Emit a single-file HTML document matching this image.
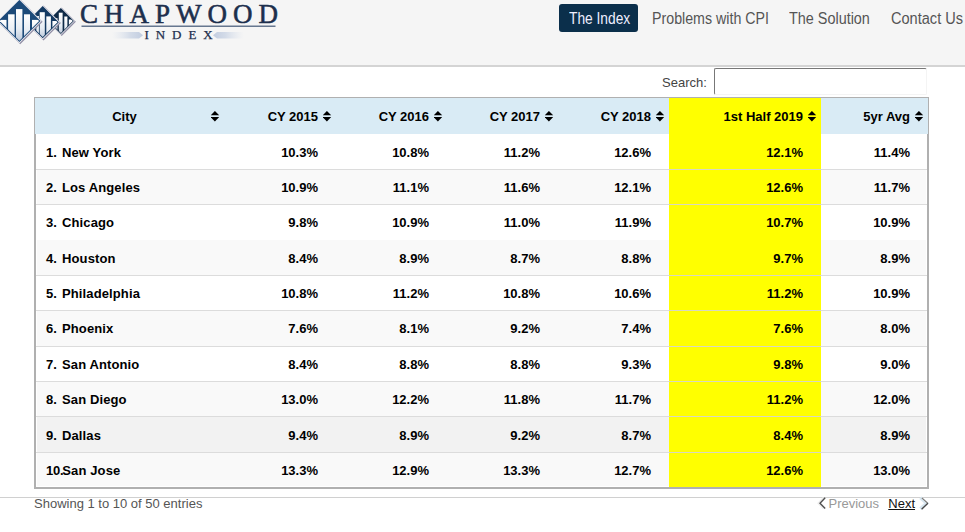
<!DOCTYPE html>
<html><head><meta charset="utf-8">
<style>
html,body{margin:0;padding:0;width:965px;height:532px;overflow:hidden;background:#fff;position:relative;font-family:"Liberation Sans",sans-serif;}
.abs{position:absolute;}
#hdr{position:absolute;left:0;top:0;width:965px;height:65px;background:#f5f5f5;border-bottom:2px solid #d4d4d4;}
.nav{position:absolute;top:4px;height:28px;line-height:29px;font-size:16px;color:#555;white-space:nowrap;}
.nav span{display:inline-block;transform-origin:0 50%;}
#active{background:#0b2f4b;color:#eef;border-radius:3px;}
#search{position:absolute;left:662px;top:75px;font-size:13px;color:#444;line-height:15px;}
#inp{position:absolute;left:714px;top:68px;width:211px;height:24.5px;border-top:1px solid #777;border-left:1px solid #777;border-right:1px solid #f4f4f4;border-bottom:1px solid #f4f4f4;border-radius:2px;background:#fff;}
#tbl{position:absolute;left:34px;top:97px;width:893px;height:389px;border:1px solid #b0b0b0;border-bottom:2px solid #b0b0b0;background:#fff;}
#thead{position:absolute;left:35px;top:98px;width:893px;height:36px;background:#d9ebf5;}
.th{position:absolute;top:99px;height:36px;line-height:36px;font-size:13px;font-weight:bold;color:#000;white-space:nowrap;}
.row{position:absolute;left:36px;width:891px;}
.rbg{position:absolute;left:37px;width:889px;}
.line{position:absolute;left:36px;width:891px;height:1px;background:#dcdcdc;}
.td{position:absolute;font-size:13px;font-weight:bold;color:#000;white-space:nowrap;line-height:15px;}
.num{display:inline-block;width:16px;}
.sort{position:absolute;width:8px;height:11px;}
#footline{position:absolute;left:0;top:497px;width:965px;height:1px;background:#d0d0d0;}
#info{position:absolute;left:34px;top:496px;font-size:13px;color:#555;line-height:15px;}
</style></head><body>
<div id="hdr"></div>
<svg class="abs" style="left:0;top:0" width="300" height="50" viewBox="0 0 300 50">
<defs><linearGradient id="bg" x1="0" y1="0" x2="0" y2="1"><stop offset="0" stop-color="#ffffff"/><stop offset="0.55" stop-color="#e6ecf3"/><stop offset="1" stop-color="#aebdd2"/></linearGradient>
<linearGradient id="blobL" x1="0" y1="0" x2="1" y2="0"><stop offset="0" stop-color="#dfe5ee" stop-opacity="0"/><stop offset="0.6" stop-color="#d3dbe8"/><stop offset="1" stop-color="#c2cde0"/></linearGradient>
<linearGradient id="blobR" x1="0" y1="0" x2="1" y2="0"><stop offset="0" stop-color="#c2cde0"/><stop offset="0.4" stop-color="#d3dbe8"/><stop offset="1" stop-color="#dfe5ee" stop-opacity="0"/></linearGradient></defs>
<clipPath id="c3"><polygon points="60.9,9.1 72.8,21.0 60.9,32.9 49.0,21.0"/></clipPath>
<polygon points="61.699999999999996,7.6000000000000005 75.89999999999999,21.8 61.699999999999996,36.0 47.5,21.8" fill="#8e8ca3"/>
<polygon points="60.9,7.0 74.9,21.0 60.9,35.0 46.9,21.0" fill="#eeeef4"/>
<polygon points="60.9,8.0 73.9,21.0 60.9,34.0 47.9,21.0" fill="#0e2a47"/>
<g clip-path="url(#c3)">
<rect x="52" y="18" width="5.399999999999999" height="19.0" fill="url(#bg)"/>
<rect x="58.8" y="12.7" width="3.8000000000000043" height="24.3" fill="url(#bg)"/>
<rect x="64.3" y="16.5" width="3.1000000000000085" height="20.5" fill="url(#bg)"/>
<rect x="68.9" y="19.5" width="5.099999999999994" height="17.5" fill="url(#bg)"/>
</g>
<clipPath id="c2"><polygon points="42.7,7.399999999999999 57.5,22.2 42.7,37.0 27.900000000000002,22.2"/></clipPath>
<polygon points="43.5,5.6000000000000005 60.9,23.0 43.5,40.39999999999999 26.100000000000005,23.0" fill="#8e8ca3"/>
<polygon points="42.7,5.0 59.900000000000006,22.2 42.7,39.4 25.500000000000004,22.2" fill="#eeeef4"/>
<polygon points="42.7,6.099999999999998 58.800000000000004,22.2 42.7,38.3 26.6,22.2" fill="#143a62"/>
<g clip-path="url(#c2)">
<rect x="28" y="21" width="6.799999999999997" height="20.4" fill="url(#bg)"/>
<rect x="36.3" y="16" width="2.6000000000000014" height="25.4" fill="url(#bg)"/>
<rect x="39.7" y="12.2" width="5.099999999999994" height="29.2" fill="url(#bg)"/>
<rect x="46.3" y="16.4" width="4.600000000000001" height="25.0" fill="url(#bg)"/>
<rect x="52.4" y="21" width="5.600000000000001" height="20.4" fill="url(#bg)"/>
</g>
<clipPath id="c1"><polygon points="19.4,1.3000000000000007 39.099999999999994,21.0 19.4,40.7 -0.3000000000000007,21.0"/></clipPath>
<polygon points="20.2,-0.5999999999999985 42.599999999999994,21.8 20.2,44.199999999999996 -2.2,21.8" fill="#8e8ca3"/>
<polygon points="19.4,-1.1999999999999993 41.599999999999994,21.0 19.4,43.2 -2.8000000000000007,21.0" fill="#eeeef4"/>
<polygon points="19.4,-0.10000000000000142 40.5,21.0 19.4,42.1 -1.7000000000000028,21.0" fill="#1c4a79"/>
<g clip-path="url(#c1)">
<rect x="-2" y="19.9" width="8.5" height="25.300000000000004" fill="url(#bg)"/>
<rect x="8.1" y="14.3" width="6.5" height="30.900000000000002" fill="url(#bg)"/>
<rect x="16" y="9.1" width="6.399999999999999" height="36.1" fill="url(#bg)"/>
<rect x="24" y="14.3" width="6" height="30.900000000000002" fill="url(#bg)"/>
<rect x="32" y="19.9" width="9" height="25.300000000000004" fill="url(#bg)"/>
</g>
<text x="80" y="23" font-family="Liberation Serif" font-size="27" letter-spacing="6.0" fill="#1d2f4d" stroke="#1d2f4d" stroke-width="0.55">CHAPWOOD</text>
<rect x="81.5" y="25.5" width="194" height="1.5" fill="#66778f"/>
<path d="M112,32 L139,32 L143,35.2 L139,38.4 L112,38.4 Z" fill="url(#blobL)"/>
<path d="M244,32 L217,32 L213,35.2 L217,38.4 L244,38.4 Z" fill="url(#blobR)"/>
<text x="144.6" y="39.1" font-family="Liberation Serif" font-size="13" letter-spacing="6.9" fill="#1d2f4d" stroke="#1d2f4d" stroke-width="0.25">INDEX</text>
</svg>

<div class="nav" id="active" style="left:559px;width:79px;"><span style="margin-left:9.5px;transform:scaleX(0.86)">The Index</span></div>
<div class="nav" style="left:651.5px;"><span style="transform:scaleX(0.889)">Problems with CPI</span></div>
<div class="nav" style="left:788.5px;"><span style="transform:scaleX(0.90)">The Solution</span></div>
<div class="nav" style="left:890.5px;"><span style="transform:scaleX(0.91)">Contact Us</span></div>

<div id="search">Search:</div>
<div id="inp"></div>

<div id="tbl"></div>
<div id="thead"></div>
<div class="abs" style="left:35px;top:134px;width:1px;height:353px;background:#b0b0b0"></div>
<div class="abs" style="left:927px;top:134px;width:1px;height:353px;background:#b0b0b0"></div>
<div class="abs" style="left:669px;top:98px;width:152px;height:36px;background:#ffff00"></div>
<div class="rbg" style="top:134px;height:35px;background:#ffffff"></div>
<div class="line" style="top:169px"></div>
<div class="rbg" style="top:170px;height:34px;background:#f9f9f9"></div>
<div class="line" style="top:204px"></div>
<div class="rbg" style="top:205px;height:35px;background:#ffffff"></div>
<div class="rbg" style="top:240px;height:35px;background:#f9f9f9"></div>
<div class="line" style="top:275px"></div>
<div class="rbg" style="top:276px;height:34px;background:#ffffff"></div>
<div class="line" style="top:310px"></div>
<div class="rbg" style="top:311px;height:35px;background:#f9f9f9"></div>
<div class="line" style="top:346px"></div>
<div class="rbg" style="top:347px;height:34px;background:#ffffff"></div>
<div class="line" style="top:381px"></div>
<div class="rbg" style="top:382px;height:34px;background:#f9f9f9"></div>
<div class="line" style="top:416px"></div>
<div class="rbg" style="top:417px;height:35px;background:#f2f2f2"></div>
<div class="line" style="top:452px"></div>
<div class="rbg" style="top:453px;height:33px;background:#f9f9f9"></div>
<div class="abs" style="left:669px;top:134px;width:152px;height:353px;background:#ffff00"></div>
<div class="abs" style="left:669px;top:169px;width:152px;height:1px;background:#d8d8c0"></div>
<div class="abs" style="left:669px;top:204px;width:152px;height:1px;background:#d8d8c0"></div>
<div class="abs" style="left:669px;top:275px;width:152px;height:1px;background:#d8d8c0"></div>
<div class="abs" style="left:669px;top:310px;width:152px;height:1px;background:#d8d8c0"></div>
<div class="abs" style="left:669px;top:346px;width:152px;height:1px;background:#d8d8c0"></div>
<div class="abs" style="left:669px;top:381px;width:152px;height:1px;background:#d8d8c0"></div>
<div class="abs" style="left:669px;top:416px;width:152px;height:1px;background:#d8d8c0"></div>
<div class="abs" style="left:669px;top:452px;width:152px;height:1px;background:#d8d8c0"></div>
<div class="td" style="left:46px;top:145px;letter-spacing:0.12px"><span class="num">1.</span>New York</div>
<div class="td" style="right:647px;top:145px">10.3%</div>
<div class="td" style="right:536px;top:145px">10.8%</div>
<div class="td" style="right:425px;top:145px">11.2%</div>
<div class="td" style="right:314px;top:145px">12.6%</div>
<div class="td" style="right:162px;top:145px">12.1%</div>
<div class="td" style="right:55px;top:145px">11.4%</div>
<div class="td" style="left:46px;top:180px;letter-spacing:0.12px"><span class="num">2.</span>Los Angeles</div>
<div class="td" style="right:647px;top:180px">10.9%</div>
<div class="td" style="right:536px;top:180px">11.1%</div>
<div class="td" style="right:425px;top:180px">11.6%</div>
<div class="td" style="right:314px;top:180px">12.1%</div>
<div class="td" style="right:162px;top:180px">12.6%</div>
<div class="td" style="right:55px;top:180px">11.7%</div>
<div class="td" style="left:46px;top:215px;letter-spacing:0.12px"><span class="num">3.</span>Chicago</div>
<div class="td" style="right:647px;top:215px">9.8%</div>
<div class="td" style="right:536px;top:215px">10.9%</div>
<div class="td" style="right:425px;top:215px">11.0%</div>
<div class="td" style="right:314px;top:215px">11.9%</div>
<div class="td" style="right:162px;top:215px">10.7%</div>
<div class="td" style="right:55px;top:215px">10.9%</div>
<div class="td" style="left:46px;top:251px;letter-spacing:0.12px"><span class="num">4.</span>Houston</div>
<div class="td" style="right:647px;top:251px">8.4%</div>
<div class="td" style="right:536px;top:251px">8.9%</div>
<div class="td" style="right:425px;top:251px">8.7%</div>
<div class="td" style="right:314px;top:251px">8.8%</div>
<div class="td" style="right:162px;top:251px">9.7%</div>
<div class="td" style="right:55px;top:251px">8.9%</div>
<div class="td" style="left:46px;top:286px;letter-spacing:0.12px"><span class="num">5.</span>Philadelphia</div>
<div class="td" style="right:647px;top:286px">10.8%</div>
<div class="td" style="right:536px;top:286px">11.2%</div>
<div class="td" style="right:425px;top:286px">10.8%</div>
<div class="td" style="right:314px;top:286px">10.6%</div>
<div class="td" style="right:162px;top:286px">11.2%</div>
<div class="td" style="right:55px;top:286px">10.9%</div>
<div class="td" style="left:46px;top:321px;letter-spacing:0.12px"><span class="num">6.</span>Phoenix</div>
<div class="td" style="right:647px;top:321px">7.6%</div>
<div class="td" style="right:536px;top:321px">8.1%</div>
<div class="td" style="right:425px;top:321px">9.2%</div>
<div class="td" style="right:314px;top:321px">7.4%</div>
<div class="td" style="right:162px;top:321px">7.6%</div>
<div class="td" style="right:55px;top:321px">8.0%</div>
<div class="td" style="left:46px;top:357px;letter-spacing:0.12px"><span class="num">7.</span>San Antonio</div>
<div class="td" style="right:647px;top:357px">8.4%</div>
<div class="td" style="right:536px;top:357px">8.8%</div>
<div class="td" style="right:425px;top:357px">8.8%</div>
<div class="td" style="right:314px;top:357px">9.3%</div>
<div class="td" style="right:162px;top:357px">9.8%</div>
<div class="td" style="right:55px;top:357px">9.0%</div>
<div class="td" style="left:46px;top:392px;letter-spacing:0.12px"><span class="num">8.</span>San Diego</div>
<div class="td" style="right:647px;top:392px">13.0%</div>
<div class="td" style="right:536px;top:392px">12.2%</div>
<div class="td" style="right:425px;top:392px">11.8%</div>
<div class="td" style="right:314px;top:392px">11.7%</div>
<div class="td" style="right:162px;top:392px">11.2%</div>
<div class="td" style="right:55px;top:392px">12.0%</div>
<div class="td" style="left:46px;top:428px;letter-spacing:0.12px"><span class="num">9.</span>Dallas</div>
<div class="td" style="right:647px;top:428px">9.4%</div>
<div class="td" style="right:536px;top:428px">8.9%</div>
<div class="td" style="right:425px;top:428px">9.2%</div>
<div class="td" style="right:314px;top:428px">8.7%</div>
<div class="td" style="right:162px;top:428px">8.4%</div>
<div class="td" style="right:55px;top:428px">8.9%</div>
<div class="td" style="left:46px;top:463px;letter-spacing:0.12px"><span class="num" style="width:16.3px;letter-spacing:-0.2px">10.</span>San Jose</div>
<div class="td" style="right:647px;top:463px">13.3%</div>
<div class="td" style="right:536px;top:463px">12.9%</div>
<div class="td" style="right:425px;top:463px">13.3%</div>
<div class="td" style="right:314px;top:463px">12.7%</div>
<div class="td" style="right:162px;top:463px">12.6%</div>
<div class="td" style="right:55px;top:463px">13.0%</div>
<div class="th" style="left:43.5px;width:162px;text-align:center">City</div>
<div class="th" style="right:647px">CY 2015</div>
<div class="th" style="right:536px">CY 2016</div>
<div class="th" style="right:425px">CY 2017</div>
<div class="th" style="right:314px">CY 2018</div>
<div class="th" style="right:162px">1st Half 2019</div>
<div class="th" style="right:55px">5yr Avg</div>
<svg class="abs" style="left:210.5px;top:110.8px" width="9" height="11" viewBox="0.6 0 9 11"><polygon points="4.5,0 8.8,4.3 0.2,4.3" fill="#000"/><polygon points="0.2,6.1 8.8,6.1 4.5,10.4" fill="#000"/></svg>
<svg class="abs" style="left:322.5px;top:110.8px" width="9" height="11" viewBox="0.6 0 9 11"><polygon points="4.5,0 8.8,4.3 0.2,4.3" fill="#000"/><polygon points="0.2,6.1 8.8,6.1 4.5,10.4" fill="#000"/></svg>
<svg class="abs" style="left:433.5px;top:110.8px" width="9" height="11" viewBox="0.6 0 9 11"><polygon points="4.5,0 8.8,4.3 0.2,4.3" fill="#000"/><polygon points="0.2,6.1 8.8,6.1 4.5,10.4" fill="#000"/></svg>
<svg class="abs" style="left:544.5px;top:110.8px" width="9" height="11" viewBox="0.6 0 9 11"><polygon points="4.5,0 8.8,4.3 0.2,4.3" fill="#000"/><polygon points="0.2,6.1 8.8,6.1 4.5,10.4" fill="#000"/></svg>
<svg class="abs" style="left:655.5px;top:110.8px" width="9" height="11" viewBox="0.6 0 9 11"><polygon points="4.5,0 8.8,4.3 0.2,4.3" fill="#000"/><polygon points="0.2,6.1 8.8,6.1 4.5,10.4" fill="#000"/></svg>
<svg class="abs" style="left:808.2px;top:110.8px" width="9" height="11" viewBox="0.6 0 9 11"><polygon points="4.5,0 8.8,4.3 0.2,4.3" fill="#000"/><polygon points="0.2,6.1 8.8,6.1 4.5,10.4" fill="#000"/></svg>
<svg class="abs" style="left:915.2px;top:110.8px" width="9" height="11" viewBox="0.6 0 9 11"><polygon points="4.5,0 8.8,4.3 0.2,4.3" fill="#000"/><polygon points="0.2,6.1 8.8,6.1 4.5,10.4" fill="#000"/></svg>
<div id="footline"></div>
<svg class="abs" style="left:814px;top:494px" width="20" height="20" viewBox="814 494 20 20"><polyline points="825.2,497.8 820,503.2 825.2,508.6" fill="none" stroke="#eee" stroke-width="2" transform="translate(-1.5,0)"/><polyline points="825.2,497.8 820,503.2 825.2,508.6" fill="none" stroke="#505050" stroke-width="1.4"/></svg><div class="abs" style="left:828.5px;top:496px;font-size:13px;line-height:15px;color:#999;white-space:nowrap">Previous</div><div class="abs" style="left:888.3px;top:496px;font-size:13px;line-height:15px;color:#111;text-decoration:underline;white-space:nowrap">Next</div><svg class="abs" style="left:914px;top:494px" width="20" height="20" viewBox="914 494 20 20"><polyline points="920.3,497.8 926.6,503.3 920.3,508.8" fill="none" stroke="#d8e7f1" stroke-width="3.2"/><polyline points="921.8,497.8 927.9,503.3" fill="none" stroke="#7d7670" stroke-width="1.1"/><polyline points="927.9,503.3 921.6,509.2" fill="none" stroke="#484848" stroke-width="1.4"/></svg>
<div id="info">Showing 1 to 10 of 50 entries</div>
</body></html>
